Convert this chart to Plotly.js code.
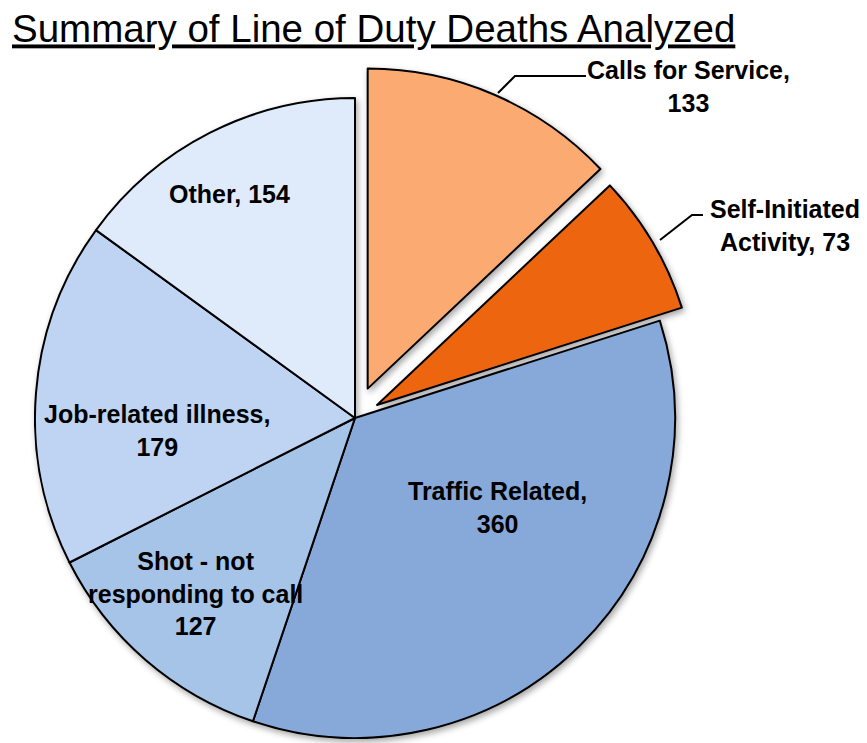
<!DOCTYPE html>
<html>
<head>
<meta charset="utf-8">
<script src="https://cdn.plot.ly/plotly-3.0.1.min.js"></script>
<style>
  html, body { margin: 0; padding: 0; overflow: hidden; background: #ffffff; }
  #chart { width: 867px; height: 800px; }
  #chart g.pielayer { filter: drop-shadow(2px 3px 3px rgba(0,0,0,0.35)); }
</style>
</head>
<body>
<div id="chart"></div>
<script>
// ---- Data ----
const categories = ["Calls for Service", "Self-Initiated Activity", "Traffic Related",
                    "Shot - not responding to call", "Job-related illness", "Other"];
const values = [133, 73, 360, 127, 179, 154];
const sliceColors = ["#FBAA72", "#EE650F", "#86A9D9", "#A6C3E8", "#BFD4F3", "#DFEBFB"];
const pulls = [0.1, 0.08, 0, 0, 0, 0];
// label text (as shown on the chart, with line breaks)
const labelTexts = ["Calls for Service,<br>133", "Self-Initiated<br>Activity, 73",
                    "Traffic Related,<br>360", "Shot - not<br>responding to call<br>127",
                    "Job-related illness,<br>179", "Other, 154"];
const titleText = "Summary of Line of Duty Deaths Analyzed";

// ---- Layout helpers (pixel -> paper) ----
const W = 867, H = 800;
const px = x => x / W;
const py = y => 1 - y / H;

// label anchor positions in pixels (layout, not data)
const labelPos = [[688, 86], [785, 225], [497, 507], [195, 593], [157, 431], [230, 194]];

const annotations = labelTexts.map((t, i) => ({
  text: t, x: px(labelPos[i][0]), y: py(labelPos[i][1]),
  xref: 'paper', yref: 'paper', xanchor: 'center', yanchor: 'middle',
  showarrow: false, align: 'center',
  font: { family: 'Liberation Sans, Arial, sans-serif', size: 25, color: '#000000', weight: 'bold' }
}));

// leader lines for the pulled-out slices
function pathPx(pts) {
  return pts.map((p, i) => (i ? 'L ' : 'M ') + px(p[0]) + ' ' + py(p[1])).join(' ');
}
const shapes = [
  { type: 'path', xref: 'paper', yref: 'paper', path: pathPx([[498, 93], [515, 76], [586, 76]]),
    line: { color: '#000000', width: 2 } },
  { type: 'path', xref: 'paper', yref: 'paper', path: pathPx([[660, 240], [692, 215], [703, 215]]),
    line: { color: '#000000', width: 2 } }
];

const cx = 355, cy = 418, R = 320, maxPull = 0.1;
const half = R * (1 + maxPull);

const trace = {
  type: 'pie',
  labels: categories,
  values: values,
  sort: false,
  direction: 'clockwise',
  rotation: 0,
  pull: pulls,
  textinfo: 'none',
  hoverinfo: 'label+value',
  marker: { colors: sliceColors, line: { color: '#000000', width: 2 } },
  domain: { x: [px(cx - half), px(cx + half)], y: [py(cy + half), py(cy - half)] },
  showlegend: false
};

const layout = {
  width: W, height: H,
  margin: { l: 0, r: 0, t: 0, b: 0 },
  paper_bgcolor: '#ffffff',
  showlegend: false,
  title: {
    text: titleText,
    xref: 'container', yref: 'container',
    x: px(12), xanchor: 'left',
    y: 1 - 29 / H, yanchor: 'middle',
    font: { family: 'Liberation Sans, Arial, sans-serif', size: 38.5, color: '#000000', lineposition: 'under' }
  },
  annotations: annotations,
  shapes: shapes
};

Plotly.newPlot('chart', [trace], layout, { displayModeBar: false, staticPlot: true });
</script>
</body>
</html>
